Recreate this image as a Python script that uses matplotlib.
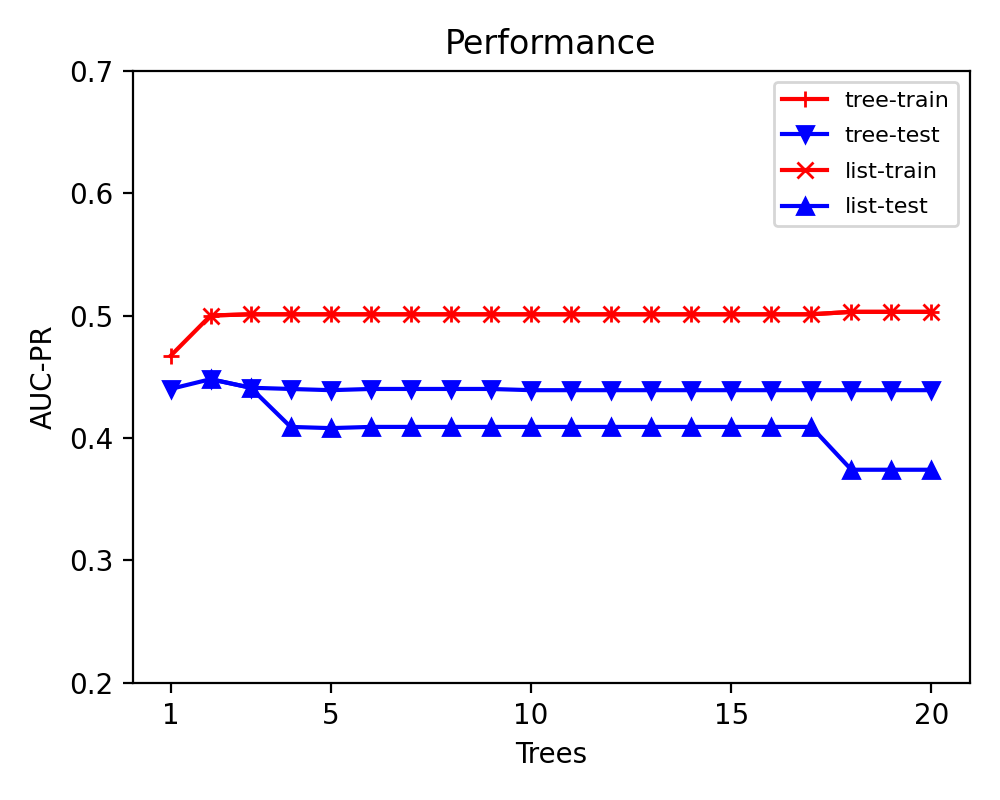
import matplotlib
matplotlib.use("Agg")
import matplotlib.pyplot as plt

# values
tree_x = list(range(1, 21))
list_x = list(range(2, 21))

tree_train = [0.467, 0.500, 0.501, 0.501, 0.501, 0.501, 0.501, 0.501, 0.501, 0.501,
              0.501, 0.501, 0.501, 0.501, 0.501, 0.501, 0.501, 0.503, 0.503, 0.503]
tree_test = [0.440, 0.448, 0.441, 0.440, 0.439, 0.440, 0.440, 0.440, 0.440, 0.439,
             0.439, 0.439, 0.439, 0.439, 0.439, 0.439, 0.439, 0.439, 0.439, 0.439]
list_train = [0.500, 0.501, 0.501, 0.501, 0.501, 0.501, 0.501, 0.501, 0.501,
              0.501, 0.501, 0.501, 0.501, 0.501, 0.501, 0.501, 0.503, 0.503, 0.503]
list_test = [0.448, 0.441, 0.409, 0.408, 0.409, 0.409, 0.409, 0.409, 0.409,
             0.409, 0.409, 0.409, 0.409, 0.409, 0.409, 0.409, 0.374, 0.374, 0.374]

x_ticks = [1, 5, 10, 15, 20]

plt.figure(figsize=(5, 4), dpi=200)
plt.plot(tree_x, tree_train, "r+-", label="tree-train")
plt.plot(tree_x, tree_test, "bv-", label="tree-test")
plt.plot(list_x, list_train, "rx-", label="list-train")
plt.plot(list_x, list_test, "b^-", label="list-test")
plt.title("Performance")
plt.xlabel("Trees")
plt.ylabel("AUC-PR")
plt.ylim(0.2, 0.7)
plt.xticks(x_ticks)
plt.legend(fontsize=8, labelspacing=0.7)
plt.subplots_adjust(left=0.1325, right=0.9695, top=0.9116, bottom=0.1466)
plt.savefig("out.png")
